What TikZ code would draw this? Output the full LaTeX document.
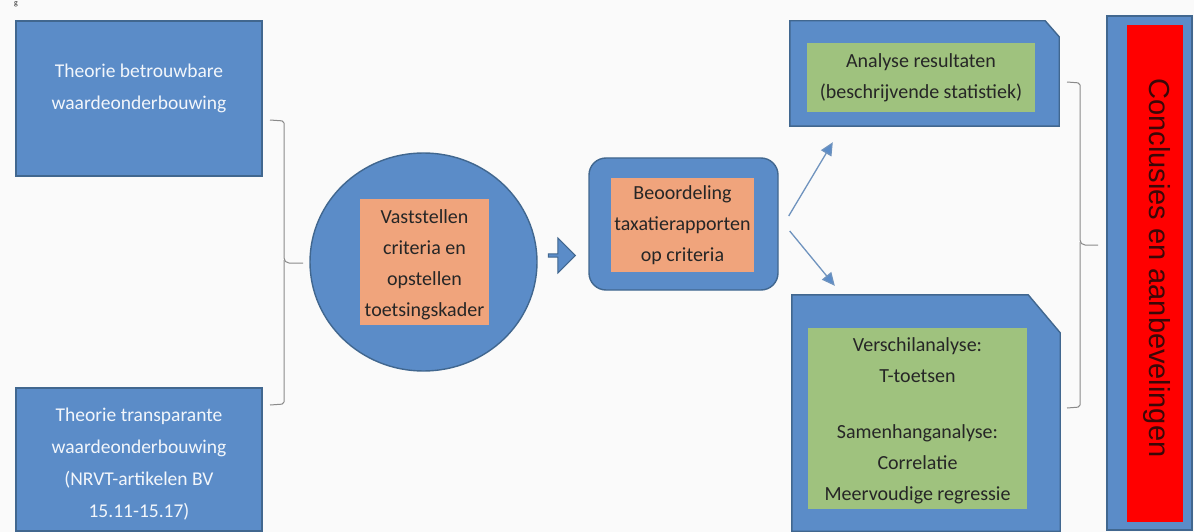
\documentclass[tikz,border=0pt]{standalone}
\usepackage{fontspec}
\setmainfont{Carlito}
\newfontfamily\arialf{Liberation Sans}
\usetikzlibrary{shapes.arrows,shapes.geometric,calc,arrows.meta}
\definecolor{bg}{HTML}{FAFAFA}
\definecolor{blu}{HTML}{5B8CC8}
\definecolor{bord}{HTML}{41678F}
\definecolor{ora}{HTML}{F0A47C}
\definecolor{grn}{HTML}{9FC27E}
\definecolor{brk}{HTML}{8A8A8A}
\definecolor{arr}{HTML}{6F93BE}
\definecolor{wtxt}{HTML}{F2F6FB}
\definecolor{dtxt}{HTML}{262626}
\definecolor{ctxt}{HTML}{3A0808}
\tikzset{
  bluebox/.style={draw=bord, line width=1.4pt, fill=blu},
  oranbox/.style={fill=ora, inner sep=0pt},
  grnbox/.style={fill=grn, inner sep=0pt},
  wlabel/.style={text=wtxt, align=center, font=\fontsize{19.5}{32}\selectfont},
  dlabel/.style={text=dtxt, align=center, font=\fontsize{20}{31}\selectfont},
  brace/.style={draw=brk, line width=1pt, rounded corners=2pt},
  thinarrow/.style={draw=arr, line width=1.3pt, -{Triangle[length=13pt,width=12pt,fill=blu]}}
}
\begin{document}
\begin{tikzpicture}[x=1pt,y=-1pt]
\fill[bg] (0,0) rectangle (1194,532);
\useasboundingbox (0,0) rectangle (1194,532);
% small caption letter at the top-left corner
\node[text=dtxt, font=\fontsize{8}{9}\selectfont, inner sep=0.5pt, anchor=north] (capg) at (16,0.5) {g};
% left boxes
\node[bluebox, minimum width=246pt, minimum height=155pt, inner sep=0pt] (t1) at (139,98.5) {};
\node[wlabel] (t1txt) at (139,88) {Theorie betrouwbare\\waardeonderbouwing};
\node[bluebox, minimum width=246pt, minimum height=143pt, inner sep=0pt] (t2) at (139,459.5) {};
\node[wlabel, text depth=0pt] (t2txt) at (139,463) {Theorie transparante\\waardeonderbouwing\\(NRVT-artikelen BV\\15.11-15.17)};
% left brace
\draw[brace] (270,120) -- (284,121) -- (284,260) -- (287,263) -- (303,263);
\draw[brace] (284,260) -- (284,266) -- (284,404) -- (270,405);
% ellipse
\node[bluebox, ellipse, minimum width=227pt, minimum height=218pt, inner sep=0pt] (ell) at (423.5,262) {};
\node[oranbox, minimum width=129pt, minimum height=126pt] (vast) at (424.5,262) {};
\node[dlabel] at ($(vast)+(0,3)$) {Vaststellen\\criteria en\\opstellen\\toetsingskader};
% block arrow
\node[bluebox, line width=1pt, single arrow, single arrow head extend=5pt, minimum width=35pt, minimum height=27pt, inner sep=0pt] (barrow) at (561,255.5) {};
% rounded box
\node[bluebox, rounded corners=17pt, minimum width=189pt, minimum height=132pt, inner sep=0pt] (beo) at (683.5,224) {};
\node[oranbox, minimum width=143pt, minimum height=94pt] (beoin) at (682.5,225) {};
\node[dlabel] at (beoin) {Beoordeling\\taxatierapporten\\op criteria};
% top right chamfered box
\node[minimum width=269pt, minimum height=105pt, inner sep=0pt] (an) at (924.5,73.5) {};
\draw[bluebox] (an.south west) -- (an.north west) -- ($(an.north east)+(-14,0)$) -- ($(an.north east)+(0,16)$) -- (an.south east) -- cycle;
\node[grnbox, minimum width=228pt, minimum height=69pt] (anin) at (921,77.5) {};
\node[dlabel] at (anin) {Analyse resultaten\\(beschrijvende statistiek)};
% bottom right chamfered box
\node[minimum width=268pt, minimum height=236pt, inner sep=0pt] (ve) at (926,413) {};
\draw[bluebox] (ve.south west) -- (ve.north west) -- ($(ve.north east)+(-32,0)$) -- ($(ve.north east)+(0,38)$) -- (ve.south east) -- cycle;
\node[grnbox, minimum width=219pt, minimum height=181pt] (vein) at (917.5,418.5) {};
\node[dlabel] at ($(vein)+(0,2)$) {Verschilanalyse:\\T-toetsen\\[25pt]Samenhanganalyse:\\Correlatie\\Meervoudige regressie};
% thin arrows
\draw[thinarrow] ($(beo.east)+(10,-8)$) -- ($(an.south west)+(43,16)$);
\draw[thinarrow] ($(beo.east)+(11,7)$) -- ($(ve.north west)+(43,-9)$);
% right brace
\draw[brace] (1067,82) -- (1080,83) -- (1080,242) -- (1083,245) -- (1098,245);
\draw[brace] (1080,242) -- (1080,248) -- (1080,407) -- (1067,408);
% conclusion box
\node[bluebox, minimum width=85pt, minimum height=514pt, inner sep=0pt] (con) at (1149.5,273) {};
\node[fill=red, minimum width=56pt, minimum height=497pt, inner sep=0pt] (conin) at (1155,273.5) {};
\node[text=ctxt, font=\arialf\fontsize{29}{32}\selectfont, rotate=-90] at (1157,268) {Conclusies en aanbevelingen};
\end{tikzpicture}
\end{document}
